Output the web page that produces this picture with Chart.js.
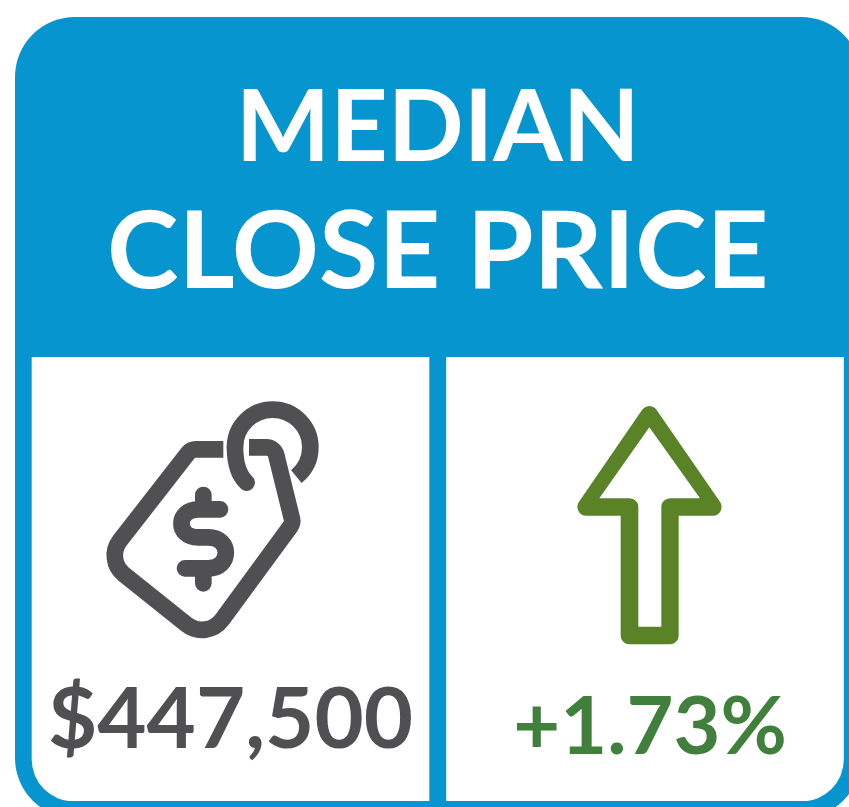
<!DOCTYPE html>
<html>
<head>
<meta charset="utf-8">
<title>Median Close Price</title>
<script src="https://cdn.jsdelivr.net/npm/chart.js@4"></script>
<style>
    html, body { margin: 0; padding: 0; background: #fff; overflow: hidden; }
    #card { position: absolute; left: 0; top: 0; }
</style>
</head>
<body>
<canvas id="card" width="862" height="807"></canvas>
<script>
// Data
const titleText = "MEDIAN";
const subtitleText = "CLOSE PRICE";
const categories = ["Median close price", "Change"];
const valueLabels = ["$447,500", "+1.73%"];
const panelValues = [1, 1];

const BLUE = "#0695cf";
const GREY = "#505052";
const ARROW_GREEN = "#5a8227";
const TEXT_GREEN = "#41803c";

// Blue card behind everything
const cardBackground = {
    id: "cardBackground",
    beforeDraw(chart) {
        const ctx = chart.ctx;
        ctx.save();
        ctx.fillStyle = BLUE;
        ctx.beginPath();
        ctx.roundRect(15, 17, 846, 801, 60);
        ctx.fill();
        ctx.restore();
    },
};

function drawTag(ctx) {
    ctx.strokeStyle = GREY;
    ctx.lineWidth = 50;
    ctx.lineCap = "butt";
    ctx.lineJoin = "round";

    // tag outline, open at the top where the loop passes through
    ctx.beginPath();
    ctx.moveTo(400, 178);
    ctx.arcTo(303, 178, 46, 508, 30);
    ctx.arcTo(46, 508, 350, 752, 72);
    ctx.arcTo(350, 752, 609, 399, 75);
    ctx.arcTo(609, 399, 553, 172, 30);
    ctx.arcTo(553, 172, 477, 172, 30);
    ctx.lineTo(477, 172);
    ctx.stroke();

    // loop
    ctx.beginPath();
    ctx.arc(548, 172, 113, Math.PI, Math.PI * 2 + 0.89);
    ctx.stroke();
    ctx.lineCap = "round";
    ctx.beginPath();
    ctx.moveTo(435, 172);
    ctx.bezierCurveTo(435, 215, 445, 255, 470, 278);
    ctx.stroke();

    // dollar sign
    ctx.beginPath();
    ctx.moveTo(390, 358);
    ctx.lineTo(325, 358);
    ctx.bezierCurveTo(260, 358, 255, 442, 325, 442);
    ctx.lineTo(355, 442);
    ctx.bezierCurveTo(425, 442, 425, 535, 355, 535);
    ctx.lineTo(285, 535);
    ctx.moveTo(340, 315);
    ctx.lineTo(340, 358);
    ctx.moveTo(340, 535);
    ctx.lineTo(340, 580);
    ctx.stroke();
}

function drawArrow(ctx) {
    // solid rounded outer shape
    ctx.strokeStyle = ARROW_GREEN;
    ctx.fillStyle = ARROW_GREEN;
    ctx.lineWidth = 52;
    ctx.lineJoin = "round";
    ctx.beginPath();
    ctx.moveTo(268, 59);
    ctx.lineTo(459, 336);
    ctx.lineTo(330, 336);
    ctx.lineTo(330, 722);
    ctx.lineTo(208, 722);
    ctx.lineTo(208, 336);
    ctx.lineTo(78, 336);
    ctx.closePath();
    ctx.fill();
    ctx.stroke();

    // white inside
    ctx.fillStyle = "#ffffff";
    ctx.beginPath();
    ctx.moveTo(268, 97);
    ctx.lineTo(420, 310);
    ctx.lineTo(330, 310);
    ctx.arcTo(304, 310, 304, 336, 26);
    ctx.lineTo(304, 695);
    ctx.lineTo(235, 695);
    ctx.lineTo(235, 336);
    ctx.arcTo(235, 310, 209, 310, 26);
    ctx.lineTo(118, 310);
    ctx.closePath();
    ctx.fill();
}

// Icons and the big value labels go on top of the white panels
const panelContent = {
    id: "panelContent",
    afterDatasetsDraw(chart) {
        const ctx = chart.ctx;
        const bars = chart.getDatasetMeta(0).data;

        ctx.save();
        ctx.translate(bars[0].x - 140.5, 390);
        ctx.scale(1 / 3, 1 / 3);
        drawTag(ctx);
        ctx.restore();

        ctx.save();
        ctx.translate(bars[1].x - 85, 395);
        ctx.scale(1 / 3, 1 / 3);
        drawArrow(ctx);
        ctx.restore();

        ctx.save();
        ctx.textAlign = "center";
        ctx.textBaseline = "alphabetic";
        ctx.font = "bold 85px Lato";
        ctx.fillStyle = GREY;
        ctx.fillText(valueLabels[0], bars[0].x, 748);
        ctx.font = "bold 81px Lato";
        ctx.fillStyle = TEXT_GREEN;
        ctx.fillText(valueLabels[1], bars[1].x + 5, 754);
        ctx.restore();
    },
};

new Chart(document.getElementById("card"), {
    type: "bar",
    data: {
        labels: categories,
        datasets: [
            {
                data: panelValues,
                backgroundColor: "#ffffff",
                barThickness: 397,
                borderSkipped: false,
                borderRadius: [{ bottomLeft: 42 }, { bottomRight: 42 }],
            },
        ],
    },
    options: {
        responsive: false,
        animation: false,
        layout: {
            padding: { left: 23.25, right: 9.75, bottom: 6 },
        },
        plugins: {
            legend: { display: false },
            tooltip: { enabled: false },
            title: {
                display: true,
                text: titleText,
                color: "#ffffff",
                fullSize: false,
                font: { family: "Lato", size: 100, weight: "bold", lineHeight: "124px" },
                padding: { top: 67, bottom: 0 },
            },
            subtitle: {
                display: true,
                text: subtitleText,
                color: "#ffffff",
                fullSize: false,
                font: { family: "Lato", size: 108, weight: "bold", lineHeight: "124px" },
                padding: { top: 0, bottom: 42 },
            },
        },
        scales: {
            x: { display: false },
            y: { display: false, min: 0, max: 1 },
        },
    },
    plugins: [cardBackground, panelContent],
});
</script>
</body>
</html>
